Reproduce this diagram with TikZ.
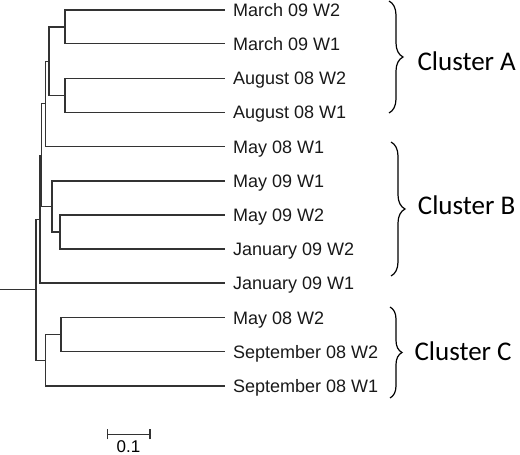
\documentclass[tikz,border=0pt]{standalone}
\usepackage{fontspec}
\setmainfont{Liberation Sans}
\newfontfamily\clusterfont{Carlito}
\usetikzlibrary{decorations.pathreplacing}
\begin{document}
\begin{tikzpicture}[x=1pt,y=-1pt,
  br/.style={line width=1.1pt,draw=black!80},
  leaf/.style={anchor=west,inner xsep=8pt,inner ysep=0pt,font=\fontsize{18}{18}\selectfont,text height=12.9pt,text depth=0pt,text=black!90},
  clus/.style={anchor=west,inner sep=0pt,font=\clusterfont\fontsize{27}{27}\selectfont,text height=17.4pt,text depth=0pt},
  bracestyle/.style={line width=1.2pt,decorate,decoration={brace,amplitude=14pt}}]
\useasboundingbox (0,0) rectangle (520,455);
% leaves
\node[leaf] (l0) at (225,10.0) {March 09 W2};
\node[leaf] (l1) at (225,43.9) {March 09 W1};
\node[leaf] (l2) at (225,78.2) {August 08 W2};
\node[leaf] (l3) at (225,112.4) {August 08 W1};
\node[leaf] (l4) at (225,146.6) {May 08 W1};
\node[leaf] (l5) at (225,181.0) {May 09 W1};
\node[leaf] (l6) at (225,215.0) {May 09 W2};
\node[leaf] (l7) at (225,249.0) {January 09 W2};
\node[leaf] (l8) at (225,283.0) {January 09 W1};
\node[leaf] (l9) at (225,317.6) {May 08 W2};
\node[leaf] (l10) at (225,351.7) {September 08 W2};
\node[leaf] (l11) at (225,386.0) {September 08 W1};
% internal nodes
\coordinate (a1) at (65,26.95);
\coordinate (a2) at (65,95.3);
\coordinate (a) at (49,61.1);
\coordinate (n3) at (45.7,103.9);
\coordinate (bb) at (60,232.0);
\coordinate (b) at (52,206.5);
\coordinate (n2) at (41.7,155.2);
\coordinate (n1) at (40,219.1);
\coordinate (c1) at (61,334.65);
\coordinate (c) at (45.3,360.3);
\coordinate (root) at (36,289.7);
\coordinate (stem) at (0,289.7);
% branches
\draw[br] (a1) |- (l0.west);
\draw[br] (a1) |- (l1.west);
\draw[br] (a2) |- (l2.west);
\draw[br] (a2) |- (l3.west);
\draw[br] (a) |- (a1);
\draw[br] (a) |- (a2);
\draw[br] (n3) |- (a);
\draw[br] (n3) |- (l4.west);
\draw[br] (bb) |- (l6.west);
\draw[br] (bb) |- (l7.west);
\draw[br] (b) |- (l5.west);
\draw[br] (b) |- (bb);
\draw[br] (n2) |- (n3);
\draw[br] (n2) |- (b);
\draw[br] (n1) |- (n2);
\draw[br] (n1) |- (l8.west);
\draw[br] (c1) |- (l9.west);
\draw[br] (c1) |- (l10.west);
\draw[br] (c) |- (c1);
\draw[br] (c) |- (l11.west);
\draw[br] (root) |- (n1);
\draw[br] (root) |- (c);
\draw[br] (stem) -- (root);
% braces
\coordinate (ba1) at (389,1);
\coordinate (ba2) at (389,113);
\coordinate (bb1) at (391,142);
\coordinate (bb2) at (391,276);
\coordinate (bc1) at (390,307);
\coordinate (bc2) at (390,398);
\draw[bracestyle] (ba1) -- (ba2);
\draw[bracestyle] (bb1) -- (bb2);
\draw[bracestyle,decoration={brace,amplitude=12pt}] (bc1) -- (bc2);
\node[clus] (ca) at (417.3,62) {Cluster A};
\node[clus] (cb) at (417.7,206) {Cluster B};
\node[clus] (cc) at (414.3,351.7) {Cluster C};
% scale bar
\coordinate (s1) at (107.5,434.3);
\coordinate (s2) at (150,434.3);
\draw[br] (s1) -- (s2);
\draw[br] ([yshift=-5pt]s1) -- ([yshift=5pt]s1);
\draw[br] ([yshift=-5pt]s2) -- ([yshift=5pt]s2);
\node[inner sep=0pt,font=\fontsize{17}{17}\selectfont,text height=12.2pt,text depth=0pt] (sl) at (128.5,446.5) {0.1};
\end{tikzpicture}
\end{document}
